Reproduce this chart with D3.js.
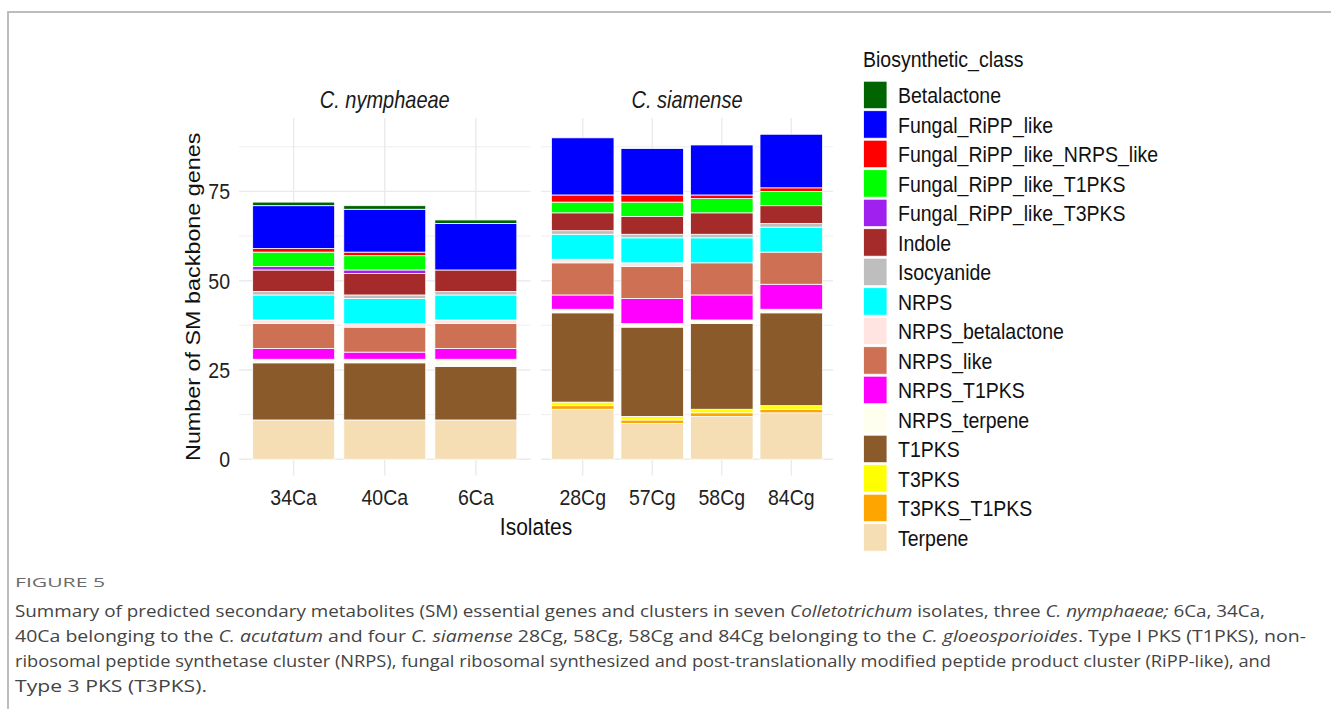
<!DOCTYPE html>
<html>
<head>
<meta charset="utf-8">
<script src="https://cdn.jsdelivr.net/npm/d3@7/dist/d3.min.js"></script>
<style>
  html, body { margin: 0; padding: 0; background: #fff; }
  svg { display: block; }
</style>
</head>
<body>
<svg id="chart" width="1331" height="709"></svg>
<script>
// ---------------- DATA ----------------
const isolates = ["34Ca", "40Ca", "6Ca", "28Cg", "57Cg", "58Cg", "84Cg"];
const isolateSpecies = ["C. nymphaeae", "C. nymphaeae", "C. nymphaeae", "C. siamense", "C. siamense", "C. siamense", "C. siamense"];
const speciesPanels = ["C. nymphaeae", "C. siamense"];

// legend order (top of stack first)
const classes = [
  "Betalactone", "Fungal_RiPP_like", "Fungal_RiPP_like_NRPS_like", "Fungal_RiPP_like_T1PKS",
  "Fungal_RiPP_like_T3PKS", "Indole", "Isocyanide", "NRPS", "NRPS_betalactone", "NRPS_like",
  "NRPS_T1PKS", "NRPS_terpene", "T1PKS", "T3PKS", "T3PKS_T1PKS", "Terpene"
];
const classColors = [
  "#006400", "#0000FF", "#FF0000", "#00FF00",
  "#A020F0", "#A52A2A", "#BEBEBE", "#00FFFF", "#FFE4E1", "#CD7054",
  "#FF00FF", "#FFFFF0", "#8B5A2B", "#FFFF00", "#FFA500", "#F5DEB3"
];

// counts per isolate (same order as isolates)
const Betalactone              = [1, 1, 1, 0, 0, 0, 0];
const Fungal_RiPP_like         = [12, 12, 13, 16, 13, 14, 15];
const Fungal_RiPP_like_NRPS_like = [1, 1, 0, 2, 2, 1, 1];
const Fungal_RiPP_like_T1PKS   = [4, 4, 0, 3, 4, 4, 4];
const Fungal_RiPP_like_T3PKS   = [1, 1, 0, 0, 0, 0, 0];
const Indole                   = [6, 6, 6, 5, 5, 6, 5];
const Isocyanide               = [1, 1, 1, 1, 1, 1, 1];
const NRPS                     = [7, 7, 7, 7, 7, 7, 7];
const NRPS_betalactone         = [1, 1, 1, 1, 1, 0, 0];
const NRPS_like                = [7, 7, 7, 9, 9, 9, 9];
const NRPS_T1PKS               = [3, 2, 3, 4, 7, 7, 7];
const NRPS_terpene             = [1, 1, 2, 1, 1, 1, 1];
const T1PKS                    = [16, 16, 15, 25, 25, 24, 26];
const T3PKS                    = [0, 0, 0, 1, 1, 1, 1];
const T3PKS_T1PKS              = [0, 0, 0, 1, 1, 1, 1];
const Terpene                  = [11, 11, 11, 14, 10, 12, 13];

const yTicks = [0, 25, 50, 75];
const yMinorTicks = [12.5, 37.5, 62.5, 87.5];

const classValues = {
  Betalactone, Fungal_RiPP_like, Fungal_RiPP_like_NRPS_like, Fungal_RiPP_like_T1PKS,
  Fungal_RiPP_like_T3PKS, Indole, Isocyanide, NRPS, NRPS_betalactone, NRPS_like,
  NRPS_T1PKS, NRPS_terpene, T1PKS, T3PKS, T3PKS_T1PKS, Terpene
};

// ---------------- LAYOUT ----------------
const svg = d3.select("#chart");
const FONT = "'Liberation Sans', Arial, sans-serif";
const SY = 1.17; // vertical stretch of chart text seen in the reference
const panelTop = 118, panelBottom = 475.5;
const panelX = [[239, 530.5], [541, 833]];

function sText(parent, x, y, str, opts = {}) {
  const t = parent.append("text")
    .attr("transform", `translate(${x},${y}) scale(1,${SY})`)
    .attr("font-family", FONT)
    .attr("font-size", opts.size || 19.5)
    .attr("fill", opts.fill || "#111")
    .attr("text-anchor", opts.anchor || "start")
    .text(str);
  if (opts.italic) t.attr("font-style", "italic");
  return t;
}

// table rows: one per isolate, stacked bottom-up (Terpene first)
const table = isolates.map((iso, i) => {
  const row = { isolate: iso, species: isolateSpecies[i] };
  classes.forEach(c => row[c] = classValues[c][i]);
  return row;
});
const stackKeys = classes.slice().reverse(); // bottom -> top
const stacked = d3.stack().keys(stackKeys)(table);

const maxTotal = d3.max(table, r => d3.sum(classes, c => r[c]));
const expand = maxTotal * 0.05;
const y = d3.scaleLinear().domain([0 - expand, maxTotal + expand]).range([panelBottom, panelTop]);
const color = d3.scaleOrdinal().domain(classes).range(classColors);

// frame
svg.append("line").attr("x1", 8).attr("x2", 1331).attr("y1", 12).attr("y2", 12)
  .attr("stroke", "#BDBDBD").attr("stroke-width", 2);
svg.append("line").attr("x1", 8).attr("x2", 8).attr("y1", 11).attr("y2", 709)
  .attr("stroke", "#BDBDBD").attr("stroke-width", 2);

speciesPanels.forEach((sp, pi) => {
  const cats = isolates.filter((d, i) => isolateSpecies[i] === sp);
  const x = d3.scaleBand().domain(cats).range(panelX[pi]).paddingInner(0.1).paddingOuter(0.15);
  const g = svg.append("g");

  g.selectAll(".minor").data(yMinorTicks).join("line")
    .attr("x1", panelX[pi][0]).attr("x2", panelX[pi][1])
    .attr("y1", d => y(d)).attr("y2", d => y(d))
    .attr("stroke", "#EDEDED").attr("stroke-width", 0.9);
  g.selectAll(".major").data(yTicks).join("line")
    .attr("x1", panelX[pi][0]).attr("x2", panelX[pi][1])
    .attr("y1", d => y(d)).attr("y2", d => y(d))
    .attr("stroke", "#EBEBEB").attr("stroke-width", 1.4);
  g.selectAll(".vgrid").data(cats).join("line")
    .attr("x1", d => x(d) + x.bandwidth() / 2).attr("x2", d => x(d) + x.bandwidth() / 2)
    .attr("y1", panelTop).attr("y2", panelBottom)
    .attr("stroke", "#EBEBEB").attr("stroke-width", 1.4);

  stacked.forEach(layer => {
    g.append("g").selectAll("rect")
      .data(layer.filter(d => d.data.species === sp && d[1] - d[0] > 0))
      .join("rect")
      .attr("x", d => x(d.data.isolate))
      .attr("width", x.bandwidth())
      .attr("y", d => y(d[1]))
      .attr("height", d => y(d[0]) - y(d[1]))
      .attr("fill", color(layer.key))
      .attr("stroke", "#FFFFFF").attr("stroke-width", 0.8);
  });

  // strip label
  sText(svg, (panelX[pi][0] + panelX[pi][1]) / 2, 108, sp, { size: 20, italic: true, anchor: "middle", fill: "#1A1A1A" });

  // x tick labels (positions from the band scale)
  cats.forEach(c => {
    sText(svg, x(c) + x.bandwidth() / 2, 505, c, { anchor: "middle", fill: "#222" });
  });
});

// y axis tick labels
yTicks.forEach(v => {
  sText(svg, 230, y(v) + 8, String(v), { anchor: "end", fill: "#222" });
});

// axis titles
svg.append("text")
  .attr("transform", `translate(200,${(panelTop + panelBottom) / 2}) rotate(-90) scale(1.14,1)`)
  .attr("text-anchor", "middle").attr("font-family", FONT).attr("font-size", 20.5)
  .attr("fill", "#111").text("Number of SM backbone genes");
sText(svg, (panelX[0][0] + panelX[1][1]) / 2, 535, "Isolates", { size: 21, anchor: "middle" });

// legend
sText(svg, 863, 67, "Biosynthetic_class");
const rowStep = 29.5, rowTop = 80.7;
const items = svg.append("g").selectAll(".item").data(classes).join("g")
  .attr("transform", (d, i) => `translate(0,${rowTop + i * rowStep})`);
items.append("rect").attr("x", 863.5).attr("y", 0.5).attr("width", 23.5).attr("height", 27.5)
  .attr("fill", d => color(d)).attr("stroke", "#fff").attr("stroke-width", 0.8);
items.each(function (d) {
  sText(d3.select(this), 898, 22.5, d);
});

// caption
const CAP = "'Open Sans', 'Noto Sans', sans-serif";
svg.append("text").attr("x", 15).attr("y", 587).attr("font-family", CAP)
  .attr("font-size", 13).attr("fill", "#6b6b6b").attr("textLength", 90)
  .attr("lengthAdjust", "spacingAndGlyphs").text("FIGURE 5");

const capLines = [
  { parts: [["Summary of predicted secondary metabolites (SM) essential genes and clusters in seven ", 0], ["Colletotrichum", 1], [" isolates, three ", 0], ["C. nymphaeae;", 1], [" 6Ca, 34Ca,", 0]], w: 1250 },
  { parts: [["40Ca belonging to the ", 0], ["C. acutatum", 1], [" and four ", 0], ["C. siamense", 1], [" 28Cg, 58Cg, 58Cg and 84Cg belonging to the ", 0], ["C. gloeosporioides", 1], [". Type I PKS (T1PKS), non-", 0]], w: 1291 },
  { parts: [["ribosomal peptide synthetase cluster (NRPS), fungal ribosomal synthesized and post-translationally modified peptide product cluster (RiPP-like), and", 0]], w: 1256 },
  { parts: [["Type 3 PKS (T3PKS).", 0]], w: 192 }
];
capLines.forEach((ln, i) => {
  const t = svg.append("text").attr("x", 15).attr("y", 617 + i * 25)
    .attr("font-family", CAP).attr("font-size", 16.5).attr("fill", "#444")
    .attr("textLength", ln.w).attr("lengthAdjust", "spacingAndGlyphs");
  ln.parts.forEach(p => {
    t.append("tspan").attr("font-style", p[1] ? "italic" : "normal").text(p[0]);
  });
});
</script>
</body>
</html>
